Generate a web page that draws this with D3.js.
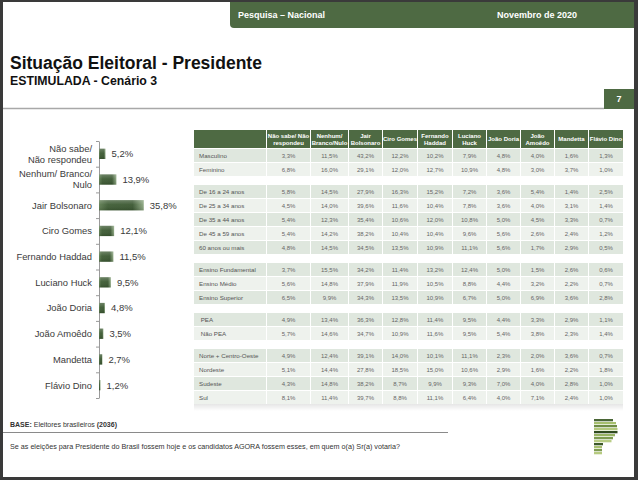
<!DOCTYPE html>
<html><head><meta charset="utf-8">
<script src="https://cdn.jsdelivr.net/npm/d3@7"></script>
<style>html,body{margin:0;padding:0;background:#fff;} svg{display:block;font-family:"Liberation Sans",Arial,Helvetica,sans-serif;}</style>
</head><body><svg id="c" width="638" height="480"></svg>
<script>
// ---------- DATA ----------
const candidates = ["Não sabe/ Não respondeu","Nenhum/ Branco/ Nulo","Jair Bolsonaro","Ciro Gomes","Fernando Haddad","Luciano Huck","João Doria","João Amoêdo","Mandetta","Flávio Dino"];
const candidateLabelLines = [["Não sabe/","Não respondeu"],["Nenhum/ Branco/","Nulo"],["Jair Bolsonaro"],["Ciro Gomes"],["Fernando Haddad"],["Luciano Huck"],["João Doria"],["João Amoêdo"],["Mandetta"],["Flávio Dino"]];
const totals = [5.2,13.9,35.8,12.1,11.5,9.5,4.8,3.5,2.7,1.2];

const columnHeaders = [["Não sabe/ Não","respondeu"],["Nenhum/","Branco/Nulo"],["Jair","Bolsonaro"],["Ciro Gomes"],["Fernando","Haddad"],["Luciano","Huck"],["João Doria"],["João","Amoêdo"],["Mandetta"],["Flávio Dino"]];
const rowLabels = ["Masculino","Feminino","De 16 a 24 anos","De 25 a 34 anos","De 35 a 44 anos","De 45 a 59 anos","60 anos ou mais","Ensino Fundamental","Ensino Médio","Ensino Superior"," PEA"," Não PEA","Norte + Centro-Oeste","Nordeste","Sudeste","Sul"];
const rowGroup = [0,0,1,1,1,1,1,2,2,2,3,3,4,4,4,4];
const tableValues = [
 [3.3,11.5,43.2,12.2,10.2,7.9,4.8,4.0,1.6,1.3],
 [6.8,16.0,29.1,12.0,12.7,10.9,4.8,3.0,3.7,1.0],
 [5.8,14.5,27.9,16.3,15.2,7.2,3.6,5.4,1.4,2.5],
 [4.5,14.0,39.6,11.6,10.4,7.8,3.6,4.0,3.1,1.4],
 [5.4,12.3,35.4,10.6,12.0,10.8,5.0,4.5,3.3,0.7],
 [5.4,14.2,38.2,10.4,10.4,9.6,5.6,2.6,2.4,1.2],
 [4.8,14.5,34.5,13.5,10.9,11.1,5.6,1.7,2.9,0.5],
 [3.7,15.5,34.2,11.4,13.2,12.4,5.0,1.5,2.6,0.6],
 [5.6,14.8,37.9,11.9,10.5,8.8,4.4,3.2,2.2,0.7],
 [6.5,9.9,34.3,13.5,10.9,6.7,5.0,6.9,3.6,2.8],
 [4.9,13.4,36.3,12.8,11.4,9.5,4.4,3.3,2.9,1.1],
 [5.7,14.6,34.7,10.9,11.6,9.5,5.4,3.8,2.3,1.4],
 [4.9,12.4,39.1,14.0,10.1,11.1,2.3,2.0,3.6,0.7],
 [5.1,14.4,27.8,18.5,15.0,10.6,2.9,1.6,2.2,1.8],
 [4.3,14.8,38.2,8.7,9.9,9.3,7.0,4.0,2.8,1.0],
 [8.1,11.4,39.7,8.8,11.1,6.4,4.0,7.1,2.4,1.0]
];
const headerLeft = "Pesquisa – Nacional";
const headerRight = "Novembro de 2020";
const titleText = "Situação Eleitoral - Presidente";
const subtitleText = "ESTIMULADA - Cenário 3";
const pageNumber = "7";
const baseSample = "2036";
const questionText = "Se as eleições para Presidente do Brasil fossem hoje e os candidatos AGORA fossem esses, em quem o(a) Sr(a) votaria?";

// ---------- DRAW ----------
const fmt = v => d3.format(".1f")(v).replace(".", ",") + "%";
const GREEN = "#4e6a43";
const svg = d3.select("#c");
const defs = svg.append("defs");

// frame
svg.append("rect").attr("width",638).attr("height",480).attr("fill","#3a3a3a");
svg.append("rect").attr("x",3).attr("y",2).attr("width",631).attr("height",475).attr("fill","#fff");

// header bar
svg.append("path").attr("d","M230,2 H634 V28 H234 Q230,28 230,24 Z").attr("fill",GREEN);
svg.append("text").attr("x",238).attr("y",17.5).attr("fill","#fff").attr("font-size",9).attr("font-weight","bold").text(headerLeft);
svg.append("text").attr("x",497).attr("y",17.5).attr("fill","#fff").attr("font-size",9).attr("font-weight","bold").text(headerRight);

// title
svg.append("text").attr("x",10).attr("y",69).attr("font-size",17.5).attr("font-weight","bold").attr("fill","#111").text(titleText);
svg.append("text").attr("x",10).attr("y",85).attr("font-size",12.3).attr("font-weight","bold").attr("fill","#111").text(subtitleText);
svg.append("line").attr("x1",3).attr("x2",604).attr("y1",108.5).attr("y2",108.5).attr("stroke","#a8a8a8").attr("stroke-width",1.5);
svg.append("rect").attr("x",604).attr("y",89).attr("width",30).attr("height",20).attr("fill",GREEN);
svg.append("text").attr("x",619).attr("y",102).attr("text-anchor","middle").attr("fill","#fff").attr("font-size",9).attr("font-weight","bold").text(pageNumber);

// ---- bar chart ----
const g1 = defs.append("linearGradient").attr("id","barG").attr("x1",0).attr("x2",1).attr("y1",0).attr("y2",0);
[[0,"#5f7d52"],[0.2,"#3e5c34"],[0.75,"#3a5731"],[1,"#8ea882"]].forEach(s=>g1.append("stop").attr("offset",s[0]).attr("stop-color",s[1]));
const g2 = defs.append("linearGradient").attr("id","barGloss").attr("x1",0).attr("x2",0).attr("y1",0).attr("y2",1);
[[0,"#fff",0.25],[0.45,"#fff",0.05],[1,"#000",0.12]].forEach(s=>g2.append("stop").attr("offset",s[0]).attr("stop-color",s[1]).attr("stop-opacity",s[2]));

const yBar = d3.scaleBand().domain(candidates).range([141,398]).paddingInner(0.6).paddingOuter(0.3);
const xBar = d3.scaleLinear().domain([0,100]).range([99,224]);

const axisScale = d3.scaleLinear().domain([0,candidates.length]).range([141,398]);
const ax = svg.append("g").attr("transform","translate(99,0)")
  .call(d3.axisLeft(axisScale).ticks(10).tickSize(3).tickSizeOuter(0).tickFormat(""));
ax.selectAll("path,line").attr("stroke","#9a9a9a");

const bars = svg.append("g").selectAll("g").data(candidates).join("g");
bars.append("rect").attr("x",xBar(0)).attr("y",d=>yBar(d)).attr("width",(d,i)=>xBar(totals[i])-xBar(0)).attr("height",yBar.bandwidth()).attr("fill","url(#barG)");
bars.append("rect").attr("x",xBar(0)).attr("y",d=>yBar(d)).attr("width",(d,i)=>xBar(totals[i])-xBar(0)).attr("height",yBar.bandwidth()).attr("fill","url(#barGloss)");
bars.append("text").attr("x",(d,i)=>xBar(totals[i])+6).attr("y",d=>yBar(d)+yBar.bandwidth()/2+3.4)
  .attr("font-size",9.5).attr("fill","#3a3a3a").text((d,i)=>fmt(totals[i]));
bars.each(function(d,i){
  const lines = candidateLabelLines[i];
  const cy = yBar(d)+yBar.bandwidth()/2;
  const t = d3.select(this).append("text").attr("text-anchor","end").attr("font-size",9.4).attr("fill","#3a3a3a");
  lines.forEach((l,k)=>{
    t.append("tspan").attr("x",92).attr("y",cy+3.4+(k-(lines.length-1)/2)*11).text(l);
  });
});

// ---- table ----
const colWidths = [72,43,37,33,34,34,33,33,33,33,34];
const colX = [];
{ let x=194; colWidths.forEach(w=>{colX.push(x); x+=w+1;}); }
const rowH = 13, rowStep = 14, groupGap = 8, firstRowY = 149;
const rowY = rowLabels.map((r,i)=>firstRowY + i*rowStep + rowGroup[i]*groupGap);

const tg = svg.append("g");
const sg = defs.append("linearGradient").attr("id","shadowG").attr("x1",0).attr("x2",0).attr("y1",0).attr("y2",1);
sg.append("stop").attr("offset",0).attr("stop-color","#000").attr("stop-opacity",0.1);
sg.append("stop").attr("offset",1).attr("stop-color","#000").attr("stop-opacity",0);
tg.append("rect").attr("x",194).attr("y",rowY[rowY.length-1]+rowH).attr("width",colX[10]+colWidths[10]-194).attr("height",7).attr("fill","url(#shadowG)");

colWidths.forEach((w,c)=>{
  tg.append("rect").attr("x",colX[c]).attr("y",130).attr("width",w).attr("height",18).attr("fill",GREEN);
});
columnHeaders.forEach((lines,c)=>{
  const cx = colX[c+1]+colWidths[c+1]/2;
  const t = tg.append("text").attr("text-anchor","middle").attr("font-size",6).attr("font-weight","bold").attr("fill","#fff");
  lines.forEach((l,k)=>t.append("tspan").attr("x",cx).attr("y",139+2.2+(k-(lines.length-1)/2)*7).text(l));
});

const rowCol = rowLabels.map((r,i)=>{
  let k = 0; for(let j=i-1;j>=0 && rowGroup[j]===rowGroup[i];j--) k++;
  return k%2===0 ? "#dfe7de" : "#eef2ed";
});
rowLabels.forEach((lab,i)=>{
  colWidths.forEach((w,c)=>{
    tg.append("rect").attr("x",colX[c]).attr("y",rowY[i]).attr("width",w).attr("height",rowH).attr("fill",rowCol[i]);
  });
  tg.append("text").attr("x",199).attr("y",rowY[i]+8.8).attr("font-size",6.2).attr("fill","#555").attr("xml:space","preserve").text(lab);
  tableValues[i].forEach((v,c)=>{
    tg.append("text").attr("x",colX[c+1]+colWidths[c+1]/2).attr("y",rowY[i]+8.8).attr("text-anchor","middle").attr("font-size",6).attr("fill","#666").text(fmt(v));
  });
});

// footer
const bt = svg.append("text").attr("x",10).attr("y",427).attr("font-size",7).attr("fill","#333");
bt.append("tspan").attr("font-weight","bold").text("BASE:");
bt.append("tspan").text(" Eleitores brasileiros  ");
bt.append("tspan").attr("font-weight","bold").text("("+baseSample+")");
svg.append("line").attr("x1",3).attr("x2",448).attr("y1",432.5).attr("y2",432.5).attr("stroke","#8a8a8a").attr("stroke-width",1);
svg.append("text").attr("x",10).attr("y",449).attr("font-size",7.2).attr("fill","#333").text(questionText);

// logo (decoration)
const logoW = [19,22,23,23.5,23.5,21,19,17.5,9,8,8,8];
const logoC = ["#4a6636","#a6bf6e","#6f8c45","#b4c97e","#2f4a1f","#98b364","#7c9a50","#b9cd86","#3e5a2a","#a8c070","#7f9c52","#b6ca80"];
svg.append("g").selectAll("rect").data(logoW).join("rect")
  .attr("x",594).attr("y",(d,i)=>419+i*3).attr("width",d=>d).attr("height",2.3).attr("fill",(d,i)=>logoC[i]);
</script></body></html>
